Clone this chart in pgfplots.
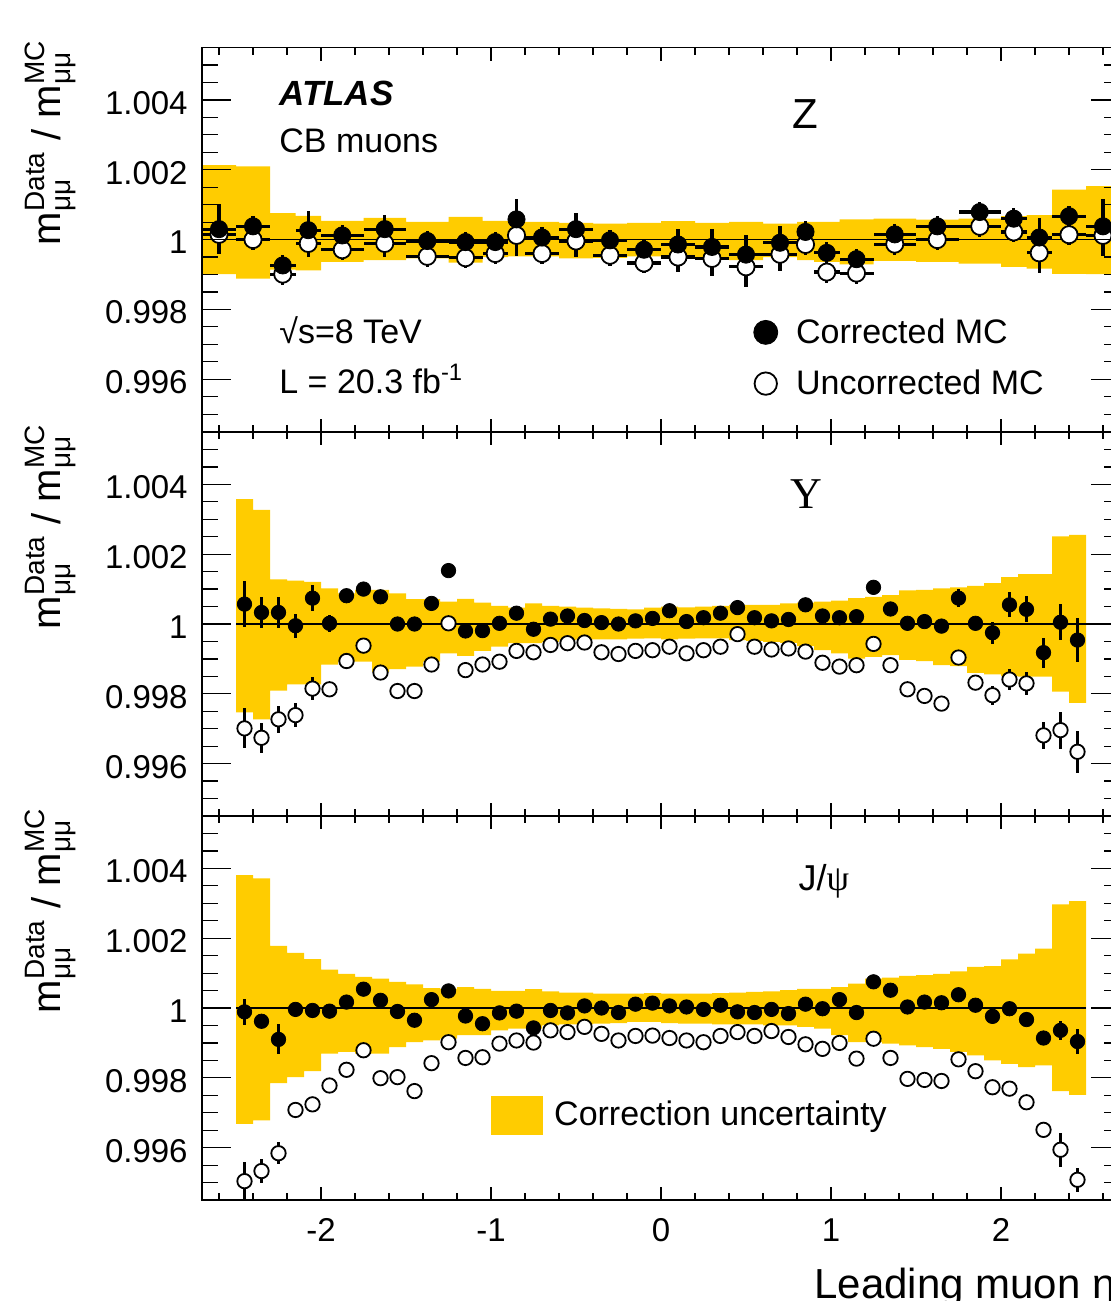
\documentclass[border=0pt]{standalone}
\usepackage{pgfplots}
\pgfplotsset{compat=1.18}
\usepackage{pgfplotstable}
\usepgfplotslibrary{fillbetween}
\usepackage{amsmath}
\usepackage{fontspec}
\setmainfont{Liberation Sans}
\newfontfamily\serifgreek{Liberation Serif}
\definecolor{bandyellow}{RGB}{255,204,0}

% ---------------- Z panel ----------------
\pgfplotstableread{
e hi lo
-2.7 1.00213 0.99901
-2.5 1.00210 0.99888
-2.3 1.00076 0.99914
-2.15 1.00068 0.99912
-2.0 1.00054 0.99936
-1.75 1.00062 0.99941
-1.5 1.00051 0.99946
-1.25 1.00065 0.99934
-1.05 1.00054 0.99950
-0.9 1.00051 0.99952
-0.8 1.00051 0.99952
-0.6 1.00048 0.99946
-0.4 1.00046 0.99948
-0.2 1.00048 0.99952
0.0 1.00053 0.99946
0.2 1.00048 0.99943
0.4 1.00051 0.99941
0.6 1.00046 0.99950
0.8 1.00051 0.99941
0.9 1.00051 0.99936
1.05 1.00058 0.99929
1.25 1.00060 0.99939
1.5 1.00057 0.99936
1.75 1.00060 0.99931
2.0 1.00067 0.99922
2.15 1.00070 0.99917
2.3 1.00143 0.99902
2.5 1.00153 0.99901
2.7 1.00153 0.99901
}\zband
\pgfplotstableread{
x ex F eF O eO
-2.6 0.1 1.00030 0.00071 1.00015 0.00050
-2.4 0.1 1.00038 0.00030 1.00000 0.00030
-2.225 0.075 0.99926 0.00030 0.99901 0.00030
-2.075 0.075 1.00027 0.00054 0.99989 0.00040
-1.875 0.125 1.00012 0.00030 0.99971 0.00030
-1.625 0.125 1.00030 0.00040 0.99989 0.00040
-1.375 0.125 0.99996 0.00030 0.99952 0.00030
-1.15 0.1 0.99993 0.00030 0.99948 0.00030
-0.975 0.075 0.99993 0.00030 0.99960 0.00030
-0.85 0.05 1.00058 0.00058 1.00012 0.00058
-0.7 0.1 1.00006 0.00030 0.99960 0.00030
-0.5 0.1 1.00030 0.00045 0.99996 0.00045
-0.3 0.1 0.99998 0.00030 0.99955 0.00030
-0.1 0.1 0.99971 0.00030 0.99933 0.00030
0.1 0.1 0.99986 0.00044 0.99950 0.00044
0.3 0.1 0.99979 0.00050 0.99946 0.00050
0.5 0.1 0.99957 0.00057 0.99922 0.00057
0.7 0.1 0.99991 0.00048 0.99958 0.00048
0.85 0.05 1.00022 0.00030 0.99986 0.00030
0.975 0.075 0.99962 0.00030 0.99907 0.00030
1.15 0.1 0.99944 0.00030 0.99904 0.00030
1.375 0.125 1.00015 0.00030 0.99987 0.00030
1.625 0.125 1.00038 0.00030 1.00000 0.00030
1.875 0.125 1.00079 0.00030 1.00038 0.00030
2.075 0.075 1.00060 0.00030 1.00022 0.00030
2.225 0.075 1.00006 0.00057 0.99962 0.00057
2.4 0.1 1.00067 0.00030 1.00014 0.00030
2.6 0.1 1.00038 0.00078 1.00012 0.00060
}\zpts

% ---------------- Upsilon panel ----------------
\pgfplotstableread{
e hi lo
-2.5 1.00358 0.99747
-2.4 1.00327 0.99727
-2.3 1.00128 0.99809
-2.2 1.00124 0.99827
-2.1 1.00121 0.99827
-2.0 1.00102 0.99884
-1.9 1.00088 0.99892
-1.8 1.00098 0.99892
-1.7 1.00098 0.99863
-1.6 1.00088 0.99871
-1.5 1.00071 0.99878
-1.4 1.00071 0.99892
-1.3 1.00064 0.99916
-1.2 1.00072 0.99909
-1.1 1.00061 0.99923
-1.0 1.00052 0.99935
-0.9 1.00047 0.99945
-0.8 1.00059 0.99945
-0.7 1.00052 0.99949
-0.6 1.00050 0.99954
-0.5 1.00047 0.99956
-0.4 1.00045 0.99956
-0.3 1.00043 0.99956
-0.2 1.00042 0.99958
-0.1 1.00047 0.99959
0.0 1.00050 0.99956
0.1 1.00048 0.99958
0.2 1.00050 0.99959
0.3 1.00052 0.99959
0.4 1.00055 0.99954
0.5 1.00055 0.99952
0.6 1.00055 0.99949
0.7 1.00059 0.99946
0.8 1.00061 0.99937
0.9 1.00064 0.99925
1.0 1.00067 0.99916
1.1 1.00074 0.99901
1.2 1.00078 0.99906
1.3 1.00083 0.99911
1.4 1.00096 0.99897
1.5 1.00098 0.99894
1.6 1.00102 0.99882
1.7 1.00105 0.99879
1.8 1.00109 0.99860
1.9 1.00117 0.99856
2.0 1.00134 0.99851
2.1 1.00143 0.99849
2.2 1.00143 0.99849
2.3 1.00251 0.99806
2.4 1.00255 0.99774
2.5 1.00255 0.99774
}\yband
\pgfplotstableread{
x F eF O eO
-2.45 1.00057 0.00067 0.99701 0.00057
-2.35 1.00033 0.00045 0.99674 0.00043
-2.25 1.00033 0.00044 0.99727 0.00038
-2.15 0.99995 0.00035 0.99739 0.00035
-2.05 1.00074 0.00037 0.99815 0.00033
-1.95 1.00002 0.00024 0.99813 0.00015
-1.85 1.00081 0.00012 0.99894 0.00010
-1.75 1.00100 0.00012 0.99938 0.00010
-1.65 1.00078 0.00012 0.99861 0.00010
-1.55 1.00000 0.00010 0.99808 0.00010
-1.45 1.00000 0.00010 0.99808 0.00010
-1.35 1.00059 0.00010 0.99884 0.00010
-1.25 1.00153 0.00010 1.00002 0.00010
-1.15 0.99980 0.00010 0.99868 0.00010
-1.05 0.99981 0.00010 0.99884 0.00010
-0.95 1.00002 0.00010 0.99892 0.00010
-0.85 1.00031 0.00010 0.99923 0.00010
-0.75 0.99985 0.00010 0.99919 0.00010
-0.65 1.00014 0.00010 0.99940 0.00010
-0.55 1.00023 0.00010 0.99945 0.00010
-0.45 1.00010 0.00010 0.99947 0.00010
-0.35 1.00004 0.00010 0.99919 0.00010
-0.25 1.00000 0.00010 0.99914 0.00010
-0.15 1.00009 0.00010 0.99923 0.00010
-0.05 1.00016 0.00010 0.99925 0.00010
0.05 1.00038 0.00010 0.99935 0.00010
0.15 1.00007 0.00010 0.99916 0.00010
0.25 1.00018 0.00010 0.99925 0.00010
0.35 1.00031 0.00010 0.99935 0.00010
0.45 1.00047 0.00010 0.99971 0.00010
0.55 1.00018 0.00010 0.99935 0.00010
0.65 1.00009 0.00010 0.99927 0.00010
0.75 1.00013 0.00010 0.99930 0.00010
0.85 1.00055 0.00010 0.99921 0.00010
0.95 1.00023 0.00010 0.99889 0.00010
1.05 1.00018 0.00010 0.99878 0.00010
1.15 1.00021 0.00010 0.99882 0.00010
1.25 1.00105 0.00010 0.99943 0.00010
1.35 1.00043 0.00010 0.99882 0.00010
1.45 1.00002 0.00010 0.99813 0.00010
1.55 1.00007 0.00012 0.99794 0.00010
1.65 0.99994 0.00015 0.99772 0.00012
1.75 1.00074 0.00026 0.99904 0.00012
1.85 1.00002 0.00015 0.99832 0.00015
1.95 0.99975 0.00031 0.99796 0.00027
2.05 1.00055 0.00036 0.99841 0.00031
2.15 1.00042 0.00037 0.99830 0.00033
2.25 0.99918 0.00043 0.99681 0.00039
2.35 1.00005 0.00052 0.99696 0.00053
2.45 0.99954 0.00063 0.99634 0.00060
}\ypts

% ---------------- J/psi panel ----------------
\pgfplotstableread{
e hi lo
-2.5 1.00381 0.99668
-2.4 1.00371 0.99678
-2.3 1.00178 0.99785
-2.2 1.00158 0.99802
-2.1 1.00140 0.99819
-2.0 1.00110 0.99869
-1.9 1.00098 0.99874
-1.8 1.00089 0.99869
-1.7 1.00084 0.99869
-1.6 1.00075 0.99888
-1.5 1.00068 0.99902
-1.4 1.00057 0.99907
-1.3 1.00055 0.99912
-1.2 1.00060 0.99922
-1.1 1.00055 0.99922
-1.0 1.00049 0.99936
-0.9 1.00049 0.99941
-0.8 1.00054 0.99941
-0.7 1.00048 0.99950
-0.6 1.00044 0.99953
-0.5 1.00044 0.99953
-0.4 1.00041 0.99955
-0.3 1.00041 0.99957
-0.2 1.00041 0.99960
-0.1 1.00043 0.99960
0.0 1.00041 0.99957
0.1 1.00041 0.99955
0.2 1.00041 0.99955
0.3 1.00043 0.99953
0.4 1.00044 0.99953
0.5 1.00046 0.99953
0.6 1.00048 0.99950
0.7 1.00051 0.99950
0.8 1.00055 0.99946
0.9 1.00055 0.99941
1.0 1.00060 0.99922
1.1 1.00070 0.99902
1.2 1.00084 0.99902
1.3 1.00087 0.99898
1.4 1.00092 0.99893
1.5 1.00094 0.99888
1.6 1.00098 0.99883
1.7 1.00105 0.99874
1.8 1.00118 0.99864
1.9 1.00120 0.99850
2.0 1.00139 0.99840
2.1 1.00156 0.99831
2.2 1.00170 0.99836
2.3 1.00297 0.99762
2.4 1.00306 0.99751
2.5 1.00306 0.99751
}\jband
\pgfplotstableread{
x F eF O eO
-2.45 0.99989 0.00037 0.99504 0.00055
-2.35 0.99962 0.00012 0.99533 0.00035
-2.25 0.99910 0.00043 0.99584 0.00032
-2.15 0.99996 0.00010 0.99708 0.00010
-2.05 0.99993 0.00010 0.99724 0.00010
-1.95 0.99991 0.00010 0.99778 0.00010
-1.85 1.00017 0.00010 0.99823 0.00010
-1.75 1.00054 0.00010 0.99879 0.00010
-1.65 1.00022 0.00010 0.99799 0.00010
-1.55 0.99990 0.00010 0.99802 0.00010
-1.45 0.99965 0.00010 0.99762 0.00010
-1.35 1.00024 0.00010 0.99842 0.00010
-1.25 1.00049 0.00010 0.99902 0.00010
-1.15 0.99977 0.00010 0.99857 0.00010
-1.05 0.99955 0.00010 0.99859 0.00010
-0.95 0.99986 0.00010 0.99898 0.00010
-0.85 0.99991 0.00010 0.99907 0.00010
-0.75 0.99943 0.00010 0.99901 0.00010
-0.65 0.99993 0.00010 0.99936 0.00010
-0.55 0.99986 0.00010 0.99931 0.00010
-0.45 1.00006 0.00010 0.99946 0.00010
-0.35 1.00000 0.00010 0.99926 0.00010
-0.25 0.99987 0.00010 0.99907 0.00010
-0.15 1.00011 0.00010 0.99920 0.00010
-0.05 1.00014 0.00010 0.99921 0.00010
0.05 1.00006 0.00010 0.99914 0.00010
0.15 1.00003 0.00010 0.99907 0.00010
0.25 0.99996 0.00010 0.99902 0.00010
0.35 1.00008 0.00010 0.99920 0.00010
0.45 0.99989 0.00010 0.99931 0.00010
0.55 0.99987 0.00010 0.99920 0.00010
0.65 0.99996 0.00010 0.99934 0.00010
0.75 0.99984 0.00010 0.99917 0.00010
0.85 1.00011 0.00010 0.99896 0.00010
0.95 0.99998 0.00010 0.99883 0.00010
1.05 1.00024 0.00010 0.99900 0.00010
1.15 0.99987 0.00010 0.99855 0.00010
1.25 1.00075 0.00010 0.99912 0.00010
1.35 1.00051 0.00010 0.99857 0.00010
1.45 1.00003 0.00010 0.99797 0.00010
1.55 1.00017 0.00010 0.99794 0.00010
1.65 1.00015 0.00010 0.99791 0.00010
1.75 1.00038 0.00010 0.99853 0.00010
1.85 1.00008 0.00010 0.99819 0.00010
1.95 0.99976 0.00010 0.99773 0.00010
2.05 0.99998 0.00010 0.99769 0.00010
2.15 0.99967 0.00010 0.99730 0.00010
2.25 0.99914 0.00012 0.99651 0.00015
2.35 0.99936 0.00027 0.99594 0.00048
2.45 0.99904 0.00035 0.99508 0.00035
}\jpts

\pgfplotsset{
  atlaspanel/.style={
    width=459pt, height=192pt, scale only axis,
    xmin=-2.7, xmax=2.7, ymin=0.9945, ymax=1.0055,
    anchor=north west,
    axis line style={line width=0.8pt, black},
    tick style={black, line width=0.6pt},
    tick align=inside,
    /pgf/number format/assume math mode=true,
    ticklabel style={font=\fontsize{16.5}{19}\selectfont},
    legend cell align=left,
  },
  xpanel/.style={atlaspanel,
    ytick=\empty,
    xtick={-2,-1,0,1,2},
    minor xtick={-2.6,-2.4,-2.2,-1.8,-1.6,-1.4,-1.2,-0.8,-0.6,-0.4,-0.2,0.2,0.4,0.6,0.8,1.2,1.4,1.6,1.8,2.2,2.4,2.6},
    major tick length=6.5pt, minor tick length=3.5pt,
    xtick pos=both,
    xticklabel style={inner sep=0pt, yshift=-9pt},
  },
  nolabels/.style={xticklabels={,,,,,}},
  ypanel/.style={atlaspanel,
    xtick=\empty,
    ytick={0.996,0.998,1,1.002,1.004},
    yticklabels={0.996,0.998,1,1.002,1.004},
    minor ytick={0.9950,0.9955,0.9965,0.9970,0.9975,0.9985,0.9990,0.9995,1.0005,1.0010,1.0015,1.0025,1.0030,1.0035,1.0045,1.0050},
    major tick length=14.5pt, minor tick length=8pt,
    ytick pos=both, yticklabel pos=left,
    yticklabel style={inner sep=0pt, xshift=-7pt, yshift=-1.5pt},
  },
  ebars/.style={
    error bars/y dir=both, error bars/y explicit, error bars/error mark=none,
    error bars/error bar style={line width=1.6pt, black}},
  filledpts/.style={ebars, only marks, mark=*, black, mark options={fill=black, draw=black}, forget plot},
  openpts/.style={ebars, only marks, mark=*, black, mark options={fill=white, draw=black, line width=0.9pt}, forget plot},
}

\begin{document}
\begin{tikzpicture}
% ======================= Panel 1: Z =======================
\begin{axis}[xpanel, nolabels, at={(101pt,-23.8pt)},
  legend style={draw=none, fill=none, at={(axis cs:0.541,0.99775)}, anchor=north west,
    inner sep=0pt, font=\fontsize{17}{20}\selectfont, row sep=11.8pt,
    nodes={inner sep=0pt},
    /tikz/every odd column/.append style={column sep=9pt}}]
\addplot[draw=none, name path=zu, const plot mark left, forget plot] table[x=e, y=hi]{\zband};
\addplot[draw=none, name path=zl, const plot mark left, forget plot] table[x=e, y=lo]{\zband};
\addplot[fill=bandyellow, draw=none, forget plot] fill between[of=zu and zl];
\addplot[black, line width=0.65pt, forget plot] coordinates {(-2.7,1) (2.7,1)};
\addplot[openpts, mark size=4.3pt, error bars/x dir=both, error bars/x explicit]
  table[x=x, y=O, x error=ex, y error=eO]{\zpts};
\addplot[filledpts, mark size=4.3pt, error bars/x dir=both, error bars/x explicit]
  table[x=x, y=F, x error=ex, y error=eF]{\zpts};
\addlegendimage{legend image code/.code={\fill[black] (6pt,0pt) circle (6pt);}}
\addlegendentry{Corrected MC}
\addlegendimage{legend image code/.code={\draw[black, line width=0.9pt, fill=white] (6pt,0pt) circle (5.6pt);}}
\addlegendentry{Uncorrected MC}
\end{axis}
\begin{axis}[ypanel, at={(101pt,-23.8pt)}]
\end{axis}

% ======================= Panel 2: Upsilon =======================
\begin{axis}[xpanel, nolabels, at={(101pt,-216pt)}]
\addplot[draw=none, name path=yu, const plot mark left, forget plot] table[x=e, y=hi]{\yband};
\addplot[draw=none, name path=yl, const plot mark left, forget plot] table[x=e, y=lo]{\yband};
\addplot[fill=bandyellow, draw=none, forget plot] fill between[of=yu and yl];
\addplot[black, line width=0.65pt, forget plot] coordinates {(-2.5,1) (2.7,1)};
\addplot[openpts, mark size=3.6pt] table[x=x, y=O, y error=eO]{\ypts};
\addplot[filledpts, mark size=3.6pt] table[x=x, y=F, y error=eF]{\ypts};
\end{axis}
\begin{axis}[ypanel, at={(101pt,-216pt)}]
\end{axis}

% ======================= Panel 3: J/psi =======================
\begin{axis}[xpanel, at={(101pt,-408pt)},
  legend style={draw=none, fill=none, at={(axis cs:-1.0,0.99750)}, anchor=north west,
    inner sep=0pt, font=\fontsize{17}{20}\selectfont,
    nodes={inner sep=0pt},
    /tikz/every odd column/.append style={column sep=5.5pt}}]
\addplot[draw=none, name path=ju, const plot mark left, forget plot] table[x=e, y=hi]{\jband};
\addplot[draw=none, name path=jl, const plot mark left, forget plot] table[x=e, y=lo]{\jband};
\addplot[fill=bandyellow, draw=none, forget plot] fill between[of=ju and jl];
\addplot[black, line width=0.65pt, forget plot] coordinates {(-2.5,1) (2.5,1)};
\addplot[openpts, mark size=3.6pt] table[x=x, y=O, y error=eO]{\jpts};
\addplot[filledpts, mark size=3.6pt] table[x=x, y=F, y error=eF]{\jpts};
\addlegendimage{legend image code/.code={\fill[bandyellow] (0pt,-9.5pt) rectangle (25.5pt,9.5pt);}}
\addlegendentry{Correction uncertainty}
\end{axis}
\begin{axis}[ypanel, at={(101pt,-408pt)}]
\end{axis}

% ======================= Texts =======================
\foreach \yy in {-20pt,-212pt,-404pt}{
  \node[rotate=90, anchor=base east, inner sep=0pt, font=\fontsize{20}{24}\selectfont]
    at (30pt,\yy) {m$^{\text{Data}}_{\text{μμ}}$ / m$^{\text{MC}}_{\text{μμ}}$};
}
\node[anchor=base west, inner sep=0pt, font=\fontsize{17.5}{20}\selectfont\bfseries\itshape] at (139.5pt,-52.5pt) {ATLAS};
\node[anchor=base west, inner sep=0pt, font=\fontsize{17}{20}\selectfont] at (139.5pt,-76.3pt) {CB muons};
\node[anchor=base west, inner sep=0pt, font=\fontsize{17}{20}\selectfont] at (139.5pt,-171.5pt) {√s=8 TeV};
\node[anchor=base west, inner sep=0pt, font=\fontsize{17}{20}\selectfont] at (139.5pt,-196.5pt) {L = 20.3 fb\textsuperscript{-1}};
\node[anchor=base, inner sep=0pt, font=\fontsize{21}{24}\selectfont] at (402.5pt,-64pt) {Z};
\node[anchor=base, inner sep=0pt, font=\serifgreek\fontsize{22}{26}\selectfont] at (403pt,-254pt) {Υ};
\node[anchor=base, inner sep=0pt, font=\fontsize{18}{22}\selectfont] at (412pt,-445pt) {J/{\serifgreek ψ}};
\node[anchor=base east, inner sep=0pt, font=\fontsize{21}{24}\selectfont] at (558pt,-649pt) {Leading muon η};

\pgfresetboundingbox
\path[use as bounding box] (0pt,0pt) rectangle (555pt,-650.5pt);
\end{tikzpicture}
\end{document}
